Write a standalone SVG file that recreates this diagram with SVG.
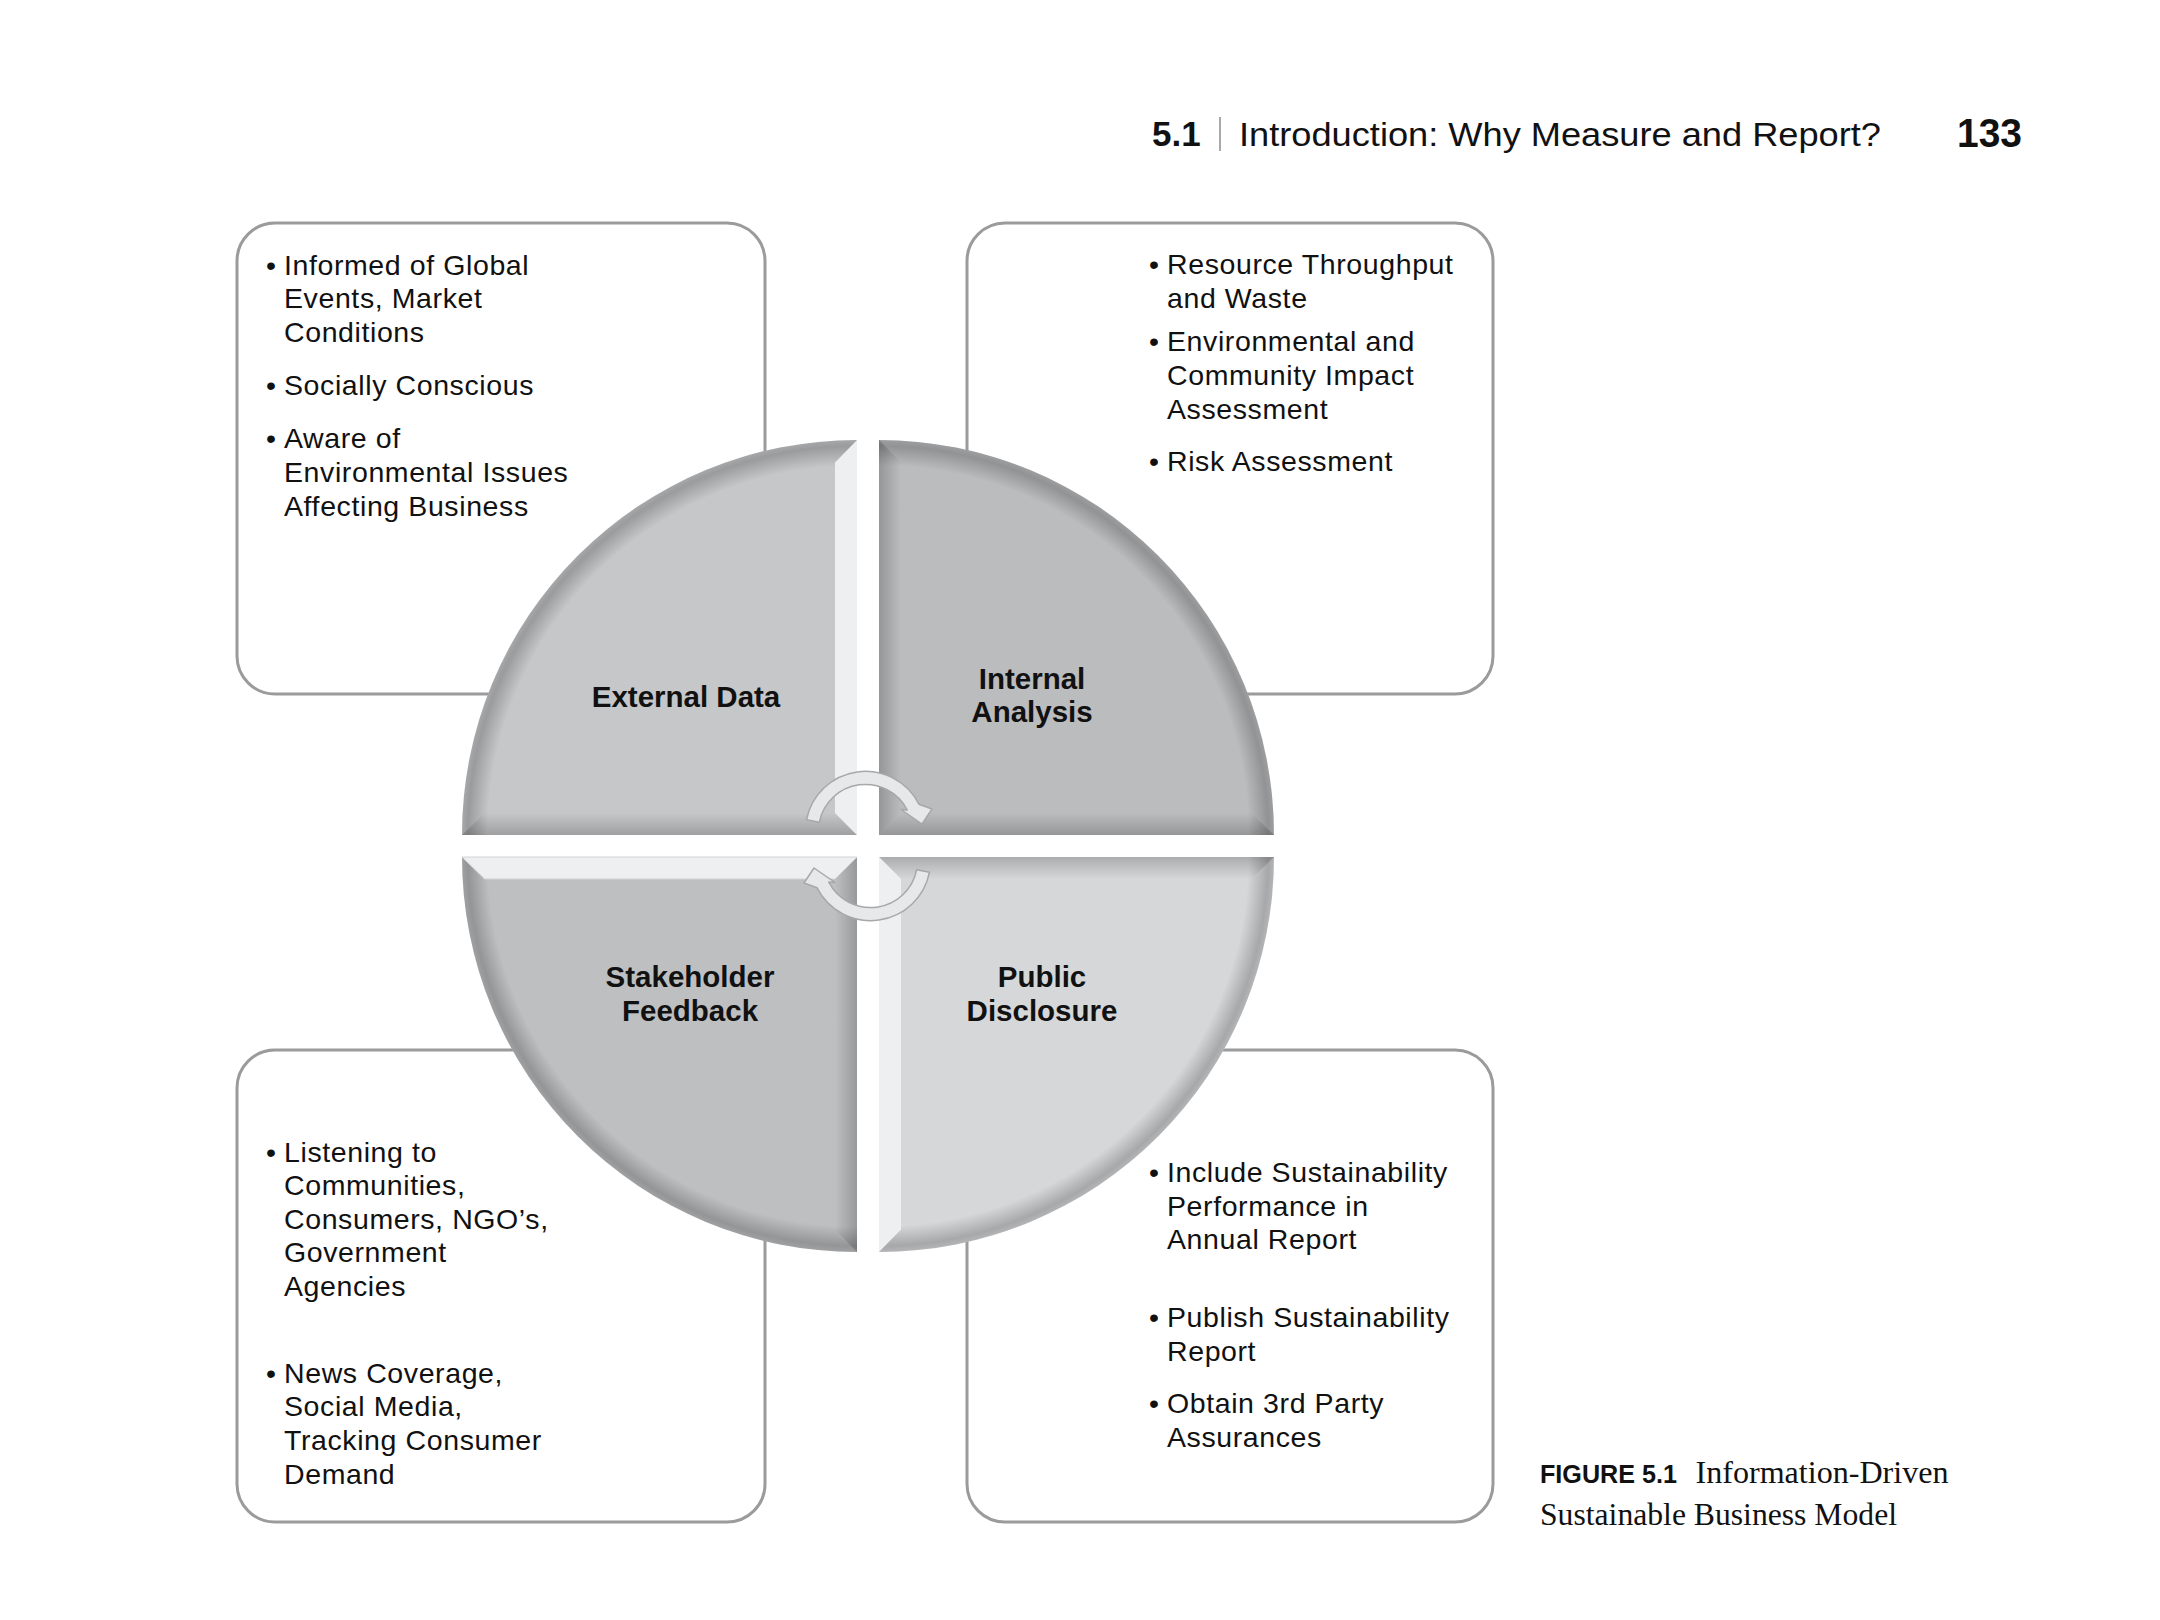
<svg xmlns="http://www.w3.org/2000/svg" width="2160" height="1620" viewBox="0 0 2160 1620">
<style>
.box{fill:#fff;stroke:#9b9b9b;stroke-width:3}
.bt{font-family:"Liberation Sans",Arial,sans-serif;font-size:28.5px;letter-spacing:0.6px;fill:#111}
.lbl{font-family:"Liberation Sans",Arial,sans-serif;font-size:29.5px;font-weight:bold;text-anchor:middle;fill:#111}
.lite{fill:#eeeff1}
.arrow{fill:#e7e8e9;stroke:#a7a8aa;stroke-width:1.5;stroke-linejoin:round}
.hdr{font-family:"Liberation Sans",Arial,sans-serif;fill:#111}
.cap{font-family:"Liberation Serif","Times New Roman",serif;font-size:31px;fill:#111}
</style>
<defs>
<radialGradient id="rTL" cx="1" cy="1" r="1" fx="1" fy="1"><stop offset="0.935" stop-color="#000" stop-opacity="0"/><stop offset="0.985" stop-color="#000" stop-opacity="0.22"/><stop offset="1" stop-color="#000" stop-opacity="0.16"/></radialGradient>
<radialGradient id="rTR" cx="0" cy="1" r="1" fx="0" fy="1"><stop offset="0.935" stop-color="#000" stop-opacity="0"/><stop offset="0.985" stop-color="#000" stop-opacity="0.22"/><stop offset="1" stop-color="#000" stop-opacity="0.16"/></radialGradient>
<radialGradient id="rBL" cx="1" cy="0" r="1" fx="1" fy="0"><stop offset="0.935" stop-color="#000" stop-opacity="0"/><stop offset="0.985" stop-color="#000" stop-opacity="0.22"/><stop offset="1" stop-color="#000" stop-opacity="0.16"/></radialGradient>
<radialGradient id="rBR" cx="0" cy="0" r="1" fx="0" fy="0"><stop offset="0.935" stop-color="#000" stop-opacity="0"/><stop offset="0.985" stop-color="#000" stop-opacity="0.22"/><stop offset="1" stop-color="#000" stop-opacity="0.16"/></radialGradient>
<linearGradient id="dDown" x1="0" y1="0" x2="0" y2="1"><stop offset="0" stop-color="#000" stop-opacity="0"/><stop offset="1" stop-color="#000" stop-opacity="0.2"/></linearGradient>
<linearGradient id="dUp" x1="0" y1="1" x2="0" y2="0"><stop offset="0" stop-color="#000" stop-opacity="0"/><stop offset="1" stop-color="#000" stop-opacity="0.2"/></linearGradient>
<linearGradient id="dLeft" x1="1" y1="0" x2="0" y2="0"><stop offset="0" stop-color="#000" stop-opacity="0"/><stop offset="1" stop-color="#000" stop-opacity="0.2"/></linearGradient>
<linearGradient id="dRight" x1="0" y1="0" x2="1" y2="0"><stop offset="0" stop-color="#000" stop-opacity="0"/><stop offset="1" stop-color="#000" stop-opacity="0.2"/></linearGradient>
</defs>

<g id="header">
<text class="hdr" x="1152" y="146" font-size="35" font-weight="bold">5.1</text>
<line x1="1220" y1="117" x2="1220" y2="151" stroke="#aaa" stroke-width="2"/>
<text class="hdr" x="1239" y="146" font-size="33" textLength="642" lengthAdjust="spacingAndGlyphs">Introduction: Why Measure and Report?</text>
<text class="hdr" x="1957" y="147" font-size="41" font-weight="bold" textLength="65" lengthAdjust="spacingAndGlyphs">133</text>
</g>

<g id="box-external">
<rect class="box" x="237" y="223" width="528" height="471" rx="38"/>
<text class="bt" x="266" y="274.5">•</text>
<text class="bt" x="284" y="274.5">Informed of Global</text>
<text class="bt" x="284" y="308">Events, Market</text>
<text class="bt" x="284" y="341.5">Conditions</text>
<text class="bt" x="266" y="395">•</text>
<text class="bt" x="284" y="395">Socially Conscious</text>
<text class="bt" x="266" y="448">•</text>
<text class="bt" x="284" y="448">Aware of</text>
<text class="bt" x="284" y="482">Environmental Issues</text>
<text class="bt" x="284" y="516">Affecting Business</text>
</g>

<g id="box-internal">
<rect class="box" x="967" y="223" width="526" height="471" rx="38"/>
<text class="bt" x="1149" y="273.5">•</text>
<text class="bt" x="1167" y="273.5">Resource Throughput</text>
<text class="bt" x="1167" y="307.5">and Waste</text>
<text class="bt" x="1149" y="350.5">•</text>
<text class="bt" x="1167" y="350.5">Environmental and</text>
<text class="bt" x="1167" y="385">Community Impact</text>
<text class="bt" x="1167" y="418.5">Assessment</text>
<text class="bt" x="1149" y="470.5">•</text>
<text class="bt" x="1167" y="470.5">Risk Assessment</text>
</g>

<g id="box-stakeholder">
<rect class="box" x="237" y="1050" width="528" height="472" rx="38"/>
<text class="bt" x="266" y="1161.5">•</text>
<text class="bt" x="284" y="1161.5">Listening to</text>
<text class="bt" x="284" y="1195">Communities,</text>
<text class="bt" x="284" y="1228.5">Consumers, NGO’s,</text>
<text class="bt" x="284" y="1262">Government</text>
<text class="bt" x="284" y="1295.5">Agencies</text>
<text class="bt" x="266" y="1382.5">•</text>
<text class="bt" x="284" y="1382.5">News Coverage,</text>
<text class="bt" x="284" y="1416">Social Media,</text>
<text class="bt" x="284" y="1449.5">Tracking Consumer</text>
<text class="bt" x="284" y="1483.5">Demand</text>
</g>

<g id="box-public">
<rect class="box" x="967" y="1050" width="526" height="472" rx="38"/>
<text class="bt" x="1149" y="1181.5">•</text>
<text class="bt" x="1167" y="1181.5">Include Sustainability</text>
<text class="bt" x="1167" y="1215.5">Performance in</text>
<text class="bt" x="1167" y="1249">Annual Report</text>
<text class="bt" x="1149" y="1326.5">•</text>
<text class="bt" x="1167" y="1326.5">Publish Sustainability</text>
<text class="bt" x="1167" y="1360.5">Report</text>
<text class="bt" x="1149" y="1412.5">•</text>
<text class="bt" x="1167" y="1412.5">Obtain 3rd Party</text>
<text class="bt" x="1167" y="1446.5">Assurances</text>
</g>

<g id="quadrant-external-data">
<path d="M857,835 L462,835 A395,395 0 0 1 857,440 Z" fill="#c6c7c9"/>
<path d="M857,835 L462,835 A395,395 0 0 1 857,440 Z" fill="url(#rTL)"/>
<polygon points="462,835 484.6,813 835,813 857,835" fill="url(#dDown)"/>
<polygon class="lite" points="857,440 835,462.6 835,813 857,835"/>
<text class="lbl" x="686" y="707">External Data</text>
</g>

<g id="quadrant-internal-analysis">
<path d="M879,835 L879,440 A395,395 0 0 1 1274,835 Z" fill="#bbbcbe"/>
<path d="M879,835 L879,440 A395,395 0 0 1 1274,835 Z" fill="url(#rTR)"/>
<polygon points="879,440 901,462.6 901,813 879,835" fill="url(#dLeft)"/>
<polygon points="879,835 901,813 1251.4,813 1274,835" fill="url(#dDown)"/>
<text class="lbl" x="1032" y="688.5">Internal</text>
<text class="lbl" x="1032" y="722">Analysis</text>
</g>

<g id="quadrant-stakeholder-feedback">
<path d="M857,857 L857,1252 A395,395 0 0 1 462,857 Z" fill="#bebfc1"/>
<path d="M857,857 L857,1252 A395,395 0 0 1 462,857 Z" fill="url(#rBL)"/>
<polygon points="857,857 835,879 835,1229.4 857,1252" fill="url(#dRight)"/>
<polygon class="lite" points="462,857 484.6,879 835,879 857,857" stroke="#d2d3d5" stroke-width="1"/>
<text class="lbl" x="690" y="987">Stakeholder</text>
<text class="lbl" x="690" y="1020.5">Feedback</text>
</g>

<g id="quadrant-public-disclosure">
<path d="M879,857 L1274,857 A395,395 0 0 1 879,1252 Z" fill="#d6d7d9"/>
<path d="M879,857 L1274,857 A395,395 0 0 1 879,1252 Z" fill="url(#rBR)"/>
<polygon points="879,857 901,879 1251.4,879 1274,857" fill="url(#dUp)"/>
<polygon class="lite" points="879,857 901,879 901,1229.4 879,1252"/>
<text class="lbl" x="1042" y="987">Public</text>
<text class="lbl" x="1042" y="1020.5">Disclosure</text>
</g>

<g id="connectors">
<path class="arrow" d="M806.5,819.8 A60,60 0 0 1 918.9,804.2 L932,809 L922,824 L901,809.5 L907.3,810.1 A47,47 0 0 0 819.3,822.3 Z"/>
<path class="arrow" transform="rotate(180 868 846)" d="M806.5,819.8 A60,60 0 0 1 918.9,804.2 L932,809 L922,824 L901,809.5 L907.3,810.1 A47,47 0 0 0 819.3,822.3 Z"/>
</g>

<g id="caption">
<text class="hdr" x="1540" y="1482.5" font-size="25" font-weight="bold" textLength="137" lengthAdjust="spacingAndGlyphs">FIGURE 5.1</text>
<text class="cap" x="1695.5" y="1482.5" textLength="253" lengthAdjust="spacingAndGlyphs">Information-Driven</text>
<text class="cap" x="1540" y="1525" textLength="357" lengthAdjust="spacingAndGlyphs">Sustainable Business Model</text>
</g>
</svg>
